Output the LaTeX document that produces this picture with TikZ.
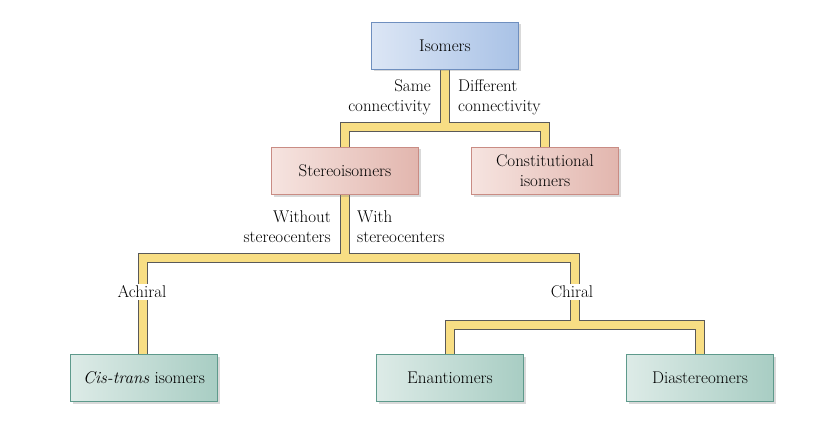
\documentclass[tikz,border=0pt]{standalone}
\usetikzlibrary{shadows}
\definecolor{bL}{HTML}{DCE6F5}\definecolor{bR}{HTML}{A9C2E6}\definecolor{bD}{HTML}{6F8FBF}
\definecolor{pL}{HTML}{F6E4E0}\definecolor{pR}{HTML}{E2B6AE}\definecolor{pD}{HTML}{C98C84}
\definecolor{gL}{HTML}{DDEBE7}\definecolor{gR}{HTML}{A8CDC3}\definecolor{gD}{HTML}{5E9A8C}
\definecolor{yel}{HTML}{F8DE84}
\begin{document}
\begin{tikzpicture}[x=1pt,y=-1pt,
 box/.style={minimum width=147pt,minimum height=47pt,align=center,font=\fontsize{17}{20}\selectfont,drop shadow={shadow xshift=2pt,shadow yshift=-2pt,opacity=0.3}},
 blue/.style={box,draw=bD,left color=bL,right color=bR},
 pink/.style={box,draw=pD,left color=pL,right color=pR},
 green/.style={box,draw=gD,left color=gL,right color=gR},
 pipe/.style={draw=black!65,line width=10pt,line join=miter},
 pipein/.style={draw=yel,line width=7.5pt,line join=miter},
 lbl/.style={font=\fontsize{17}{20}\selectfont,fill=white,inner sep=2pt,align=left}]
\useasboundingbox (0,0) rectangle (833,433);
\coordinate (a1) at (445,127); \coordinate (s1) at (345,127); \coordinate (c1) at (545,127);
\coordinate (b1) at (345,258); \coordinate (l1) at (143,258); \coordinate (r1) at (575,258);
\coordinate (r2) at (575,325); \coordinate (e1) at (450,325); \coordinate (d1) at (700,325);
\foreach \st in {pipe,pipein}{
 \path[\st] (445,68) -- (a1);
 \path[\st] (345,150) -- (s1) -- (c1) -- (545,150);
 \path[\st] (345,193) -- (b1);
 \path[\st] (143,355) -- (l1) -- (r1) -- (r2);
 \path[\st] (450,355) -- (e1) -- (d1) -- (700,355);
}
\node[blue] (iso) at (445,46) {Isomers};
\node[pink] (ste) at (345,171) {Stereoisomers};
\node[pink] (con) at (545,171) {Constitutional\\isomers};
\node[green] (cis) at (144,378) {\textit{Cis-trans} isomers};
\node[green] (ena) at (450,378) {Enantiomers};
\node[green] (dia) at (700,378) {Diastereomers};
\node[lbl,align=right,anchor=east,fill=none] (same) at (433,97) {Same\\connectivity};
\node[lbl,anchor=west,fill=none] (diff) at (456,97) {Different\\connectivity};
\node[lbl,align=right,anchor=east,fill=none] (wo) at (333,227) {Without\\stereocenters};
\node[lbl,anchor=west,fill=none] (wi) at (355,227) {With\\stereocenters};
\node[lbl] (ach) at (142,292) {Achiral};
\node[lbl] (chi) at (572,292) {Chiral};
\end{tikzpicture}
\end{document}
